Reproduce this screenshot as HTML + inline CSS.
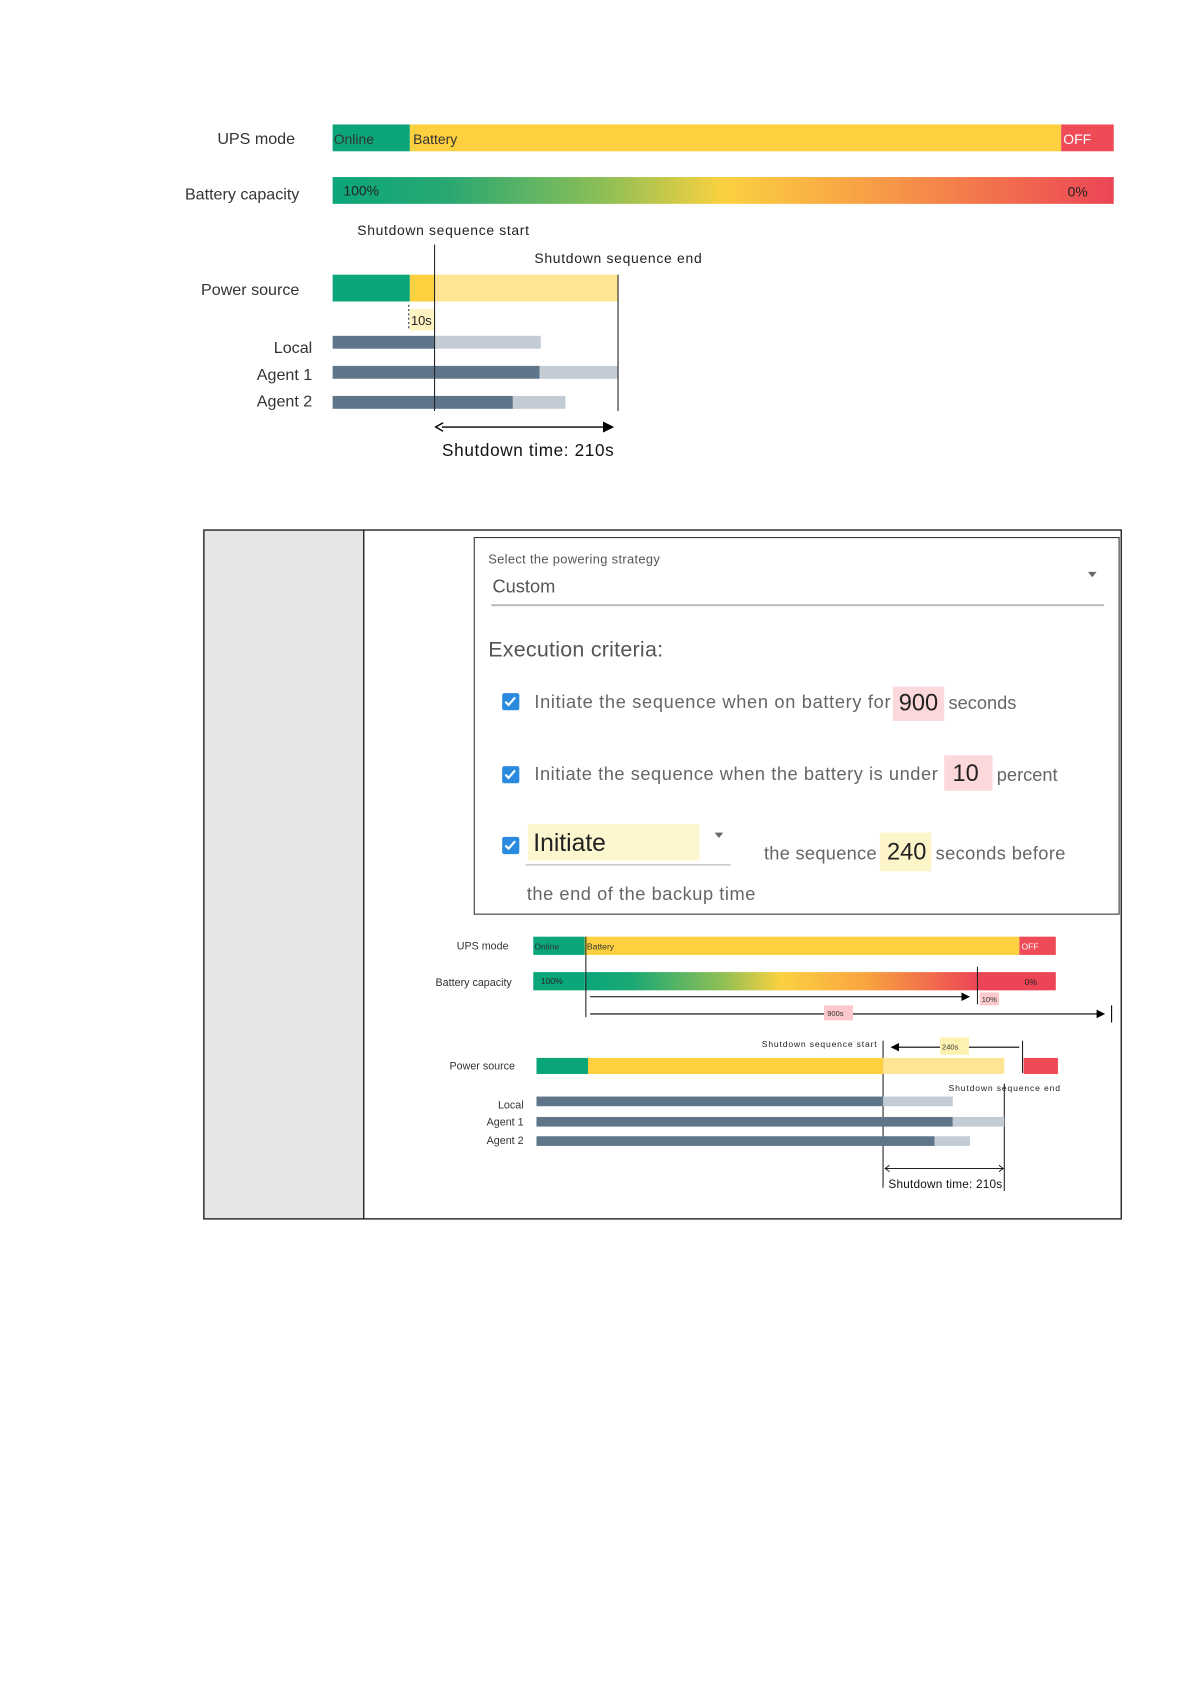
<!DOCTYPE html>
<html><head><meta charset="utf-8"><style>
html,body{margin:0;padding:0;background:#fff;}
svg{display:block;font-family:"Liberation Sans",sans-serif;}
</style></head><body>
<svg width="1191" height="1684" viewBox="0 0 1110 1569.5" preserveAspectRatio="none" xmlns="http://www.w3.org/2000/svg">
<defs>
<linearGradient id="g1" x1="0" x2="1">
<stop offset="0" stop-color="#0aa67a"/><stop offset="0.15" stop-color="#2aa872"/><stop offset="0.35" stop-color="#8fbf55"/><stop offset="0.5" stop-color="#fbd140"/><stop offset="0.65" stop-color="#f9a945"/><stop offset="0.85" stop-color="#f2704d"/><stop offset="1" stop-color="#ec4556"/>
</linearGradient>
<linearGradient id="g2" x1="0" x2="1">
<stop offset="0" stop-color="#0aa67a"/><stop offset="0.12" stop-color="#1aa874"/><stop offset="0.35" stop-color="#8fbf55"/><stop offset="0.5" stop-color="#fbd140"/><stop offset="0.72" stop-color="#f9a340"/><stop offset="1" stop-color="#ec4556"/>
</linearGradient>
<marker id="ar" markerWidth="8" markerHeight="8" refX="7" refY="4" orient="auto"><path d="M0,0 L8,4 L0,8 z" fill="#000"/></marker>
</defs>
<g font-size="15" fill="#333">
<text x="275" y="134" text-anchor="end">UPS mode</text>
<text x="279" y="186" text-anchor="end">Battery capacity</text>
<text x="279" y="275" text-anchor="end">Power source</text>
<text x="291" y="329" text-anchor="end">Local</text>
<text x="291" y="354" text-anchor="end">Agent 1</text>
<text x="291" y="379" text-anchor="end">Agent 2</text>
</g>
<rect x="310" y="116" width="72" height="25" fill="#0aa67a"/>
<rect x="382" y="116" width="607" height="25" fill="#fcd03f"/>
<rect x="989" y="116" width="49" height="25" fill="#ef4b56"/>
<g font-size="13" fill="#333"><text x="311" y="134">Online</text><text x="385" y="134">Battery</text><text x="991" y="134" fill="#fff">OFF</text></g>
<rect x="310" y="165" width="728" height="25" fill="url(#g1)"/>
<text x="320" y="182" font-size="13" fill="#222">100%</text><text x="995" y="183" font-size="13" fill="#222">0%</text>
<text x="333" y="219" font-size="13" fill="#222" textLength="160">Shutdown sequence start</text>
<text x="498" y="245" font-size="13" fill="#222" textLength="156">Shutdown sequence end</text>
<rect x="310" y="256" width="72" height="25" fill="#0aa67a"/>
<rect x="382" y="256" width="23" height="25" fill="#fcd03f"/>
<rect x="405" y="256" width="171" height="25" fill="#fde594"/>
<rect x="382" y="288" width="23" height="20" fill="#fdf2c0"/>
<line x1="381" y1="284" x2="381" y2="308" stroke="#333" stroke-dasharray="2,2"/>
<text x="383" y="303" font-size="12" fill="#222">10s</text>
<rect x="310" y="313" width="95" height="12" fill="#5f7589"/><rect x="405" y="313" width="99" height="12" fill="#c3ccd5"/>
<rect x="310" y="341" width="193" height="12" fill="#5f7589"/><rect x="503" y="341" width="73" height="12" fill="#c3ccd5"/>
<rect x="310" y="369" width="168" height="12" fill="#5f7589"/><rect x="478" y="369" width="49" height="12" fill="#c3ccd5"/>
<line x1="405" y1="228" x2="405" y2="383" stroke="#222" stroke-width="1"/>
<line x1="576" y1="256" x2="576" y2="383" stroke="#222" stroke-width="1"/>
<line x1="412" y1="398" x2="571" y2="398" stroke="#000" stroke-width="1.3" marker-end="url(#ar)"/>
<path d="M413,394 L406,398 L413,402" fill="none" stroke="#000" stroke-width="1.3"/>
<text x="492" y="425" font-size="16" text-anchor="middle" fill="#111" textLength="160">Shutdown time: 210s</text>
<rect x="190" y="494" width="149" height="642" fill="#e6e6e6"/>
<rect x="190" y="494" width="855" height="642" fill="none" stroke="#222" stroke-width="1.3"/>
<line x1="339" y1="494" x2="339" y2="1136" stroke="#222" stroke-width="1.3"/>
<rect x="442" y="501" width="601" height="351" fill="#fff" stroke="#333" stroke-width="1"/>
<text x="455" y="525" font-size="12" fill="#555" textLength="160">Select the powering strategy</text>
<text x="459" y="552" font-size="17" fill="#555">Custom</text>
<path d="M1014,533 L1022,533 L1018,538 z" fill="#666"/>
<line x1="458" y1="564" x2="1029" y2="564" stroke="#bbb" stroke-width="2"/>
<text x="455" y="612" font-size="20" fill="#555" textLength="163">Execution criteria:</text>
<g fill="#2a8ae0"><rect x="468" y="646" width="16" height="16" rx="2"/><rect x="468" y="714" width="16" height="16" rx="2"/><rect x="468" y="780" width="16" height="16" rx="2"/></g>
<g stroke="#fff" stroke-width="2" fill="none"><path d="M471,654 l3,3 l6,-7"/><path d="M471,722 l3,3 l6,-7"/><path d="M471,788 l3,3 l6,-7"/></g>
<g font-size="17" fill="#666">
<text x="498" y="660" textLength="332">Initiate the sequence when on battery for</text><text x="884" y="661">seconds</text>
<text x="498" y="727" textLength="376">Initiate the sequence when the battery is under</text><text x="929" y="728">percent</text>
<text x="712" y="801" textLength="105">the sequence</text><text x="872" y="801" textLength="121">seconds before</text>
<text x="491" y="839" textLength="213">the end of the backup time</text>
</g>
<rect x="832" y="640" width="48" height="32" fill="#fcd8da"/><text x="856" y="662" font-size="22" text-anchor="middle" fill="#222">900</text>
<rect x="880" y="704" width="45" height="33" fill="#fcd8da"/><text x="900" y="728" font-size="22" text-anchor="middle" fill="#222">10</text>
<rect x="492" y="768" width="160" height="34" fill="#fdf7d0"/><text x="497" y="793" font-size="23" fill="#222">Initiate</text>
<path d="M666,776 L674,776 L670,781 z" fill="#666"/>
<line x1="490" y1="806" x2="681" y2="806" stroke="#ccc" stroke-width="1.5"/>
<rect x="820" y="776" width="48" height="36" fill="#fdf5c8"/><text x="845" y="801" font-size="22" text-anchor="middle" fill="#222">240</text>
<g font-size="10" fill="#333">
<text x="474" y="885" text-anchor="end">UPS mode</text>
<text x="477" y="919" text-anchor="end">Battery capacity</text>
<text x="480" y="997" text-anchor="end">Power source</text>
<text x="488" y="1033" text-anchor="end">Local</text>
<text x="488" y="1049" text-anchor="end">Agent 1</text>
<text x="488" y="1066" text-anchor="end">Agent 2</text>
</g>
<rect x="497" y="873" width="48" height="17" fill="#0aa67a"/><rect x="545" y="873" width="405" height="17" fill="#fcd03f"/><rect x="950" y="873" width="34" height="17" fill="#ef4b56"/>
<g font-size="8" fill="#333"><text x="498" y="885">Online</text><text x="547" y="885">Battery</text><text x="952" y="885" fill="#fff">OFF</text></g>
<rect x="497" y="906" width="48" height="17" fill="#0aa67a"/><rect x="545" y="906" width="366" height="17" fill="url(#g2)"/><rect x="911" y="906" width="73" height="17" fill="#ec4556"/>
<text x="504" y="917" font-size="8" fill="#222">100%</text><text x="955" y="918" font-size="8" fill="#222">0%</text>
<line x1="546" y1="873" x2="546" y2="948" stroke="#222"/>
<line x1="911" y1="901" x2="911" y2="936" stroke="#222"/>
<line x1="550" y1="929" x2="903" y2="929" stroke="#000" marker-end="url(#ar)"/>
<rect x="913" y="925" width="18" height="12" fill="#fcc8cb"/><text x="915" y="934" font-size="7" fill="#333">10%</text>
<line x1="550" y1="945" x2="1029" y2="945" stroke="#000" marker-end="url(#ar)"/>
<line x1="1036" y1="937" x2="1036" y2="953" stroke="#000"/>
<rect x="768" y="937" width="27" height="14" fill="#fcc8cb"/><text x="771" y="947" font-size="7" fill="#333">900s</text>
<text x="817" y="976" font-size="8" text-anchor="end" fill="#222" textLength="107">Shutdown sequence start</text>
<line x1="823" y1="970" x2="823" y2="1107" stroke="#222"/>
<line x1="950" y1="976" x2="831" y2="976" stroke="#000" marker-end="url(#ar)"/>
<rect x="876" y="967" width="27" height="16" fill="#fdf2b0"/><text x="878" y="978" font-size="7" fill="#333">240s</text>
<line x1="953" y1="970" x2="953" y2="1000" stroke="#222"/>
<rect x="500" y="986" width="48" height="15" fill="#0aa67a"/><rect x="548" y="986" width="275" height="15" fill="#fcd03f"/><rect x="823" y="986" width="113" height="15" fill="#fde594"/><rect x="954" y="986" width="32" height="15" fill="#ef4b56"/>
<text x="884" y="1017" font-size="8" fill="#222" textLength="104">Shutdown sequence end</text>
<line x1="936" y1="1010" x2="936" y2="1110" stroke="#222"/>
<rect x="500" y="1022" width="323" height="9" fill="#5f7589"/><rect x="823" y="1022" width="65" height="9" fill="#c3ccd5"/>
<rect x="500" y="1041" width="388" height="9" fill="#5f7589"/><rect x="888" y="1041" width="48" height="9" fill="#c3ccd5"/>
<rect x="500" y="1059" width="371" height="9" fill="#5f7589"/><rect x="871" y="1059" width="33" height="9" fill="#c3ccd5"/>
<line x1="825" y1="1089" x2="935" y2="1089" stroke="#000" stroke-width="0.8"/>
<path d="M829,1086 L825,1089 L829,1092 M931,1086 L935,1089 L931,1092" fill="none" stroke="#000" stroke-width="0.8"/>
<text x="828" y="1107" font-size="11" fill="#111" textLength="106">Shutdown time: 210s</text>
</svg>
</body></html>
